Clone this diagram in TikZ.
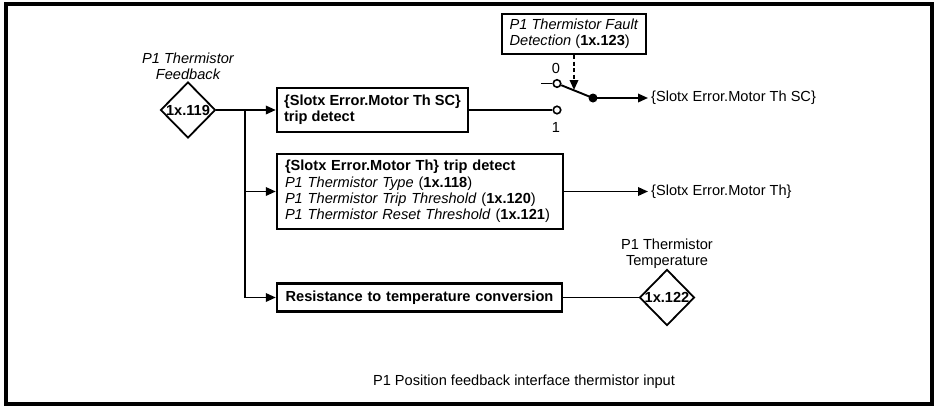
\documentclass[tikz,border=0pt]{standalone}
\usepackage{fontspec}
\setmainfont{Liberation Sans}
\usetikzlibrary{arrows.meta,shapes.geometric}
\newcommand\dgfs{\fontsize{14.6}{16.4}\selectfont}
\begin{document}
\begin{tikzpicture}[x=1pt,y=-1pt,
  every node/.style={font=\dgfs,text=black},
  blk/.style={draw,line width=2.4pt,inner xsep=6pt,inner ysep=0pt,align=left},
  diam/.style={draw,diamond,line width=1.8pt,minimum width=55pt,minimum height=56pt,inner sep=0pt},
  valtext/.style={font=\dgfs\bfseries,inner sep=0pt},
  lbl/.style={align=center,inner sep=0pt},
  conn/.style={line width=1.9pt},
  arr/.style={conn,-{Triangle[length=10pt,width=8.5pt]}},
  contact/.style={circle,draw,fill=white,line width=1.6pt,minimum size=7.5pt,inner sep=0pt},
  pivot/.style={circle,fill=black,minimum size=9pt,inner sep=0pt},
  outtext/.style={anchor=west,inner xsep=3pt,inner ysep=0pt}
]
\useasboundingbox (0,0) rectangle (934,405);
% frame
\draw[line width=4pt] (5.5,3.5) rectangle (931.5,403.5);

% input diamond
\node[lbl,font=\dgfs\itshape] (lblfb) at (188,66) {P1 Thermistor\\Feedback};
\node[diam] (d1) at (188,110) {};
\node[valtext] (t1) at (d1) {1x.119};

% blocks
\node[blk,inner xsep=0pt,minimum width=191pt,minimum height=44pt] (b1) at (372.5,110)
  {\textbf{\{Slotx Error.Motor Th SC\}}\\\textbf{trip detect}};
\node[blk,inner xsep=8pt,text width=270pt,minimum height=75pt] (b2) at (420,191.5)
  {\textbf{\{Slotx Error.Motor Th\} trip detect}\\
   \textit{P1 Thermistor Type} (\textbf{1x.118})\\
   \textit{P1 Thermistor Trip Threshold} (\textbf{1x.120})\\
   \textit{P1 Thermistor Reset Threshold} (\textbf{1x.121})};
\node[blk,text width=273pt,minimum height=28pt,align=center] (b3) at (419.5,297.5)
  {\textbf{Resistance to temperature conversion}};
\node[blk,inner xsep=0pt,minimum width=144pt,minimum height=40pt] (fd) at (574,34)
  {\textit{P1 Thermistor Fault}\\\textit{Detection} (\textbf{1x.123})};

% branch
\coordinate (br1) at (245,110);
\coordinate (br2) at (245,191.5);
\coordinate (br3) at (245,297.5);
\draw[conn] (d1.east) -- (br1);
\draw[arr] (br1) -- (b1.west);
\draw[conn] (br1) -- (br3);
\draw[arr] (br2) -- (b2.west);
\draw[arr] (br3) -- (b3.west);

% switch
\node[contact] (c0) at (557,83.5) {};
\node[contact] (c1) at (557,110) {};
\node[pivot] (pv) at (593,98) {};
\node[inner sep=0pt] (n0) at (556,68.5) {0};
\node[inner sep=0pt] (n1) at (556,127) {1};
\coordinate (c0in) at (541,83.5);
\draw[conn] (c0in) -- (c0.west);
\draw[conn] (b1.east) -- (c1.west);
\draw[conn] (c0) -- (pv.center);
\coordinate (dtip) at (574,90);
\draw[conn,dash pattern=on 4pt off 2.5pt,-{Triangle[length=10pt,width=8.5pt]}] (fd.south) -- (dtip);

% outputs
\node[outtext] (o1) at (648,98) {\{Slotx Error.Motor Th SC\}};
\node[outtext] (o2) at (648,191.5) {\{Slotx Error.Motor Th\}};
\draw[arr] (pv.center) -- (o1.west);
\draw[arr] (b2.east) -- (o2.west);

% temperature diamond
\node[lbl] (lbltp) at (667,254) {P1 Thermistor\\Temperature};
\node[diam] (d2) at (667,297.5) {};
\node[valtext] (t2) at (d2) {1x.122};
\draw[conn] (b3.east) -- (d2.west);

% caption
\node[inner sep=0pt] (cap) at (524,382) {P1 Position feedback interface thermistor input};
\end{tikzpicture}
\end{document}
